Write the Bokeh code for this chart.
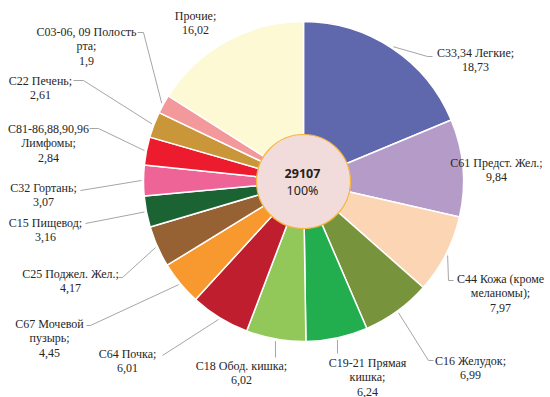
import math
from bokeh.plotting import figure
from bokeh.models import Range1d, ColumnDataSource
from bokeh.core.properties import value
from bokeh.embed import file_html
from bokeh.resources import INLINE

# ---- data ----
categories = ["C33,34 Легкие", "C61 Предст. Жел.", "C44 Кожа (кроме\nмеланомы)",
              "C16 Желудок", "C19-21 Прямая\nкишка", "C18 Обод. кишка", "C64 Почка",
              "C67 Мочевой\nпузырь", "C25 Поджел. Жел.", "C15 Пищевод", "C32 Гортань",
              "C81-86,88,90,96\nЛимфомы", "C22 Печень", "C03-06, 09 Полость\nрта", "Прочие"]
values = [18.73, 9.84, 7.97, 6.99, 6.24, 6.02, 6.01, 4.45, 4.17, 3.16, 3.07, 2.84, 2.61, 1.9, 16.02]
colors = ["#5f67ad", "#b49bc8", "#fcd5b5", "#77933c", "#22ae4e", "#92c85a", "#be1e2d",
          "#f7992f", "#966233", "#1b6333", "#ef6497", "#ec1c2e", "#c9973a", "#f3999b", "#fcf9d4"]
total_cases = "29107"
total_pct = "100%"

# ---- layout (screen coords: X, Y from top-left of picture) ----
CX, CY = 303, 181
R_OUT, R_IN = 160, 47
label_pos = [(475, 52), (496, 162), (500, 278), (470, 360), (367, 362), (241, 365),
             (127, 353), (49, 323), (70, 273), (45, 222), (43, 187), (48, 128),
             (40, 80), (86, 31), (195, 15)]
leader_paths = [[(427, 56), (432, 56)], None, [(448, 280), (453, 280)],
                [(428, 360), (433, 360)], [(337, 353)], [(275, 357)], [(162, 355)],
                [(90, 325), (86, 325)], [(122, 277), (118, 277)], [(85, 223)],
                [(80, 190)], [(98, 128), (89, 128)], [(83, 80), (73, 80)],
                [(143, 32), (137, 32)], None]
LINE_H = 14.5

W, H = 550, 397
def fy(Y):
    return H - Y

p = figure(width=W, height=H, x_range=Range1d(0, W), y_range=Range1d(0, H),
           toolbar_location=None, output_backend="svg", min_border=0)
p.axis.visible = False
p.grid.visible = False
p.outline_line_color = None
p.background_fill_color = "white"

total = sum(values)
starts, ends, mids = [], [], []
cum = 0.0
for v in values:
    a0 = math.pi / 2 - 2 * math.pi * cum / total
    cum += v
    a1 = math.pi / 2 - 2 * math.pi * cum / total
    starts.append(a0)
    ends.append(a1)
    mids.append((a0 + a1) / 2)

src = ColumnDataSource(dict(start=starts, end=ends, color=colors))
p.wedge(x=CX, y=fy(CY), radius=R_OUT, start_angle="start", end_angle="end",
        direction="clock", fill_color="color", line_color="white", line_width=1.5,
        source=src)

# leader lines
lxs, lys = [], []
for m, path in zip(mids, leader_paths):
    if path is None:
        continue
    ex = CX + (R_OUT + 2) * math.cos(m)
    ey = fy(CY) + (R_OUT + 2) * math.sin(m)
    xs = [ex] + [pt[0] for pt in path]
    ys = [ey] + [fy(pt[1]) for pt in path]
    lxs.append(xs)
    lys.append(ys)
p.multi_line(xs=lxs, ys=lys, line_color="#a6a6a6", line_width=1)

# labels
tx, ty, tt = [], [], []
for cat, v, (lx, ly) in zip(categories, values, label_pos):
    lines = (cat + ";").split("\n") + [str(v).replace(".", ",")]
    for i, s in enumerate(lines):
        tx.append(lx)
        ty.append(fy(ly + i * LINE_H))
        tt.append(s)
p.text(x=tx, y=ty, text=tt, text_align="center", text_baseline="middle",
       text_font=value("Times New Roman"), text_font_size="12px", text_color="#262626")

# center circle
p.circle(x=CX, y=fy(CY), radius=R_IN, fill_color="#f2dcdb", line_color="#f4b63f",
         line_width=1.2)
p.text(x=[CX - 1], y=[fy(173)], text=[total_cases], text_align="center",
       text_baseline="middle", text_font=value("Noto Sans"), text_font_size="12.5px",
       text_font_style="bold", text_color="#222222")
p.text(x=[CX - 1], y=[fy(190)], text=[total_pct], text_align="center",
       text_baseline="middle", text_font=value("Noto Sans"), text_font_size="12.5px",
       text_color="#222222")

open("out.html", "w").write(file_html(p, INLINE))
